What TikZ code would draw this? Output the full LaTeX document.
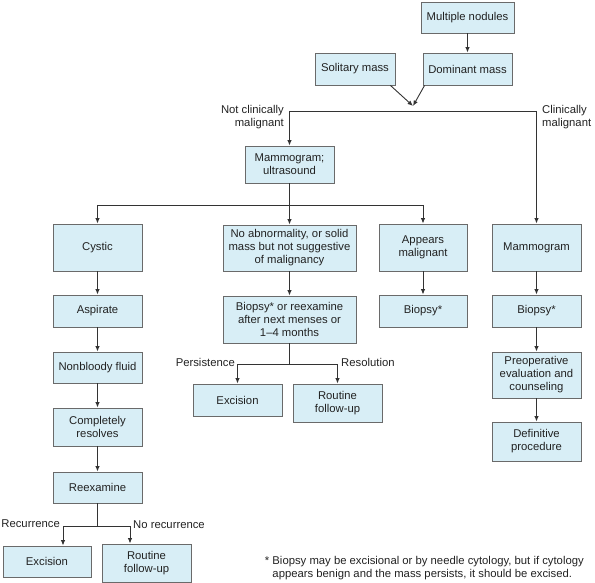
\documentclass[tikz,border=0pt]{standalone}
\usepackage{fontspec}
\setmainfont{Liberation Sans}
\usetikzlibrary{arrows.meta}
\definecolor{boxfill}{HTML}{D8EEF6}
\definecolor{boxline}{HTML}{6A6A6A}
\definecolor{txt}{HTML}{222222}
\definecolor{wire}{HTML}{333333}
\tikzset{
  box/.style={draw=boxline, fill=boxfill, line width=0.9pt, inner sep=0pt, align=center,
    text=txt, font=\fontsize{11.3}{13}\selectfont},
  lbl/.style={inner sep=0pt, text=txt, font=\fontsize{11.3}{13}\selectfont},
  wireline/.style={draw=wire, line width=0.9pt},
  arr/.style={wireline, -{Latex[length=5.5pt,width=4.5pt]}}
}
\newcommand{\bx}[6]{\node[box, minimum width=#4pt, minimum height=#5pt] (#1) at (#2,#3) {#6};}
\begin{document}
\begin{tikzpicture}[x=1pt,y=-1pt]
\useasboundingbox (0,0) rectangle (595,583);
% boxes
\bx{mult}{467.5}{17.5}{93}{31}{Multiple nodules}
\bx{sol}{355}{69}{80}{32}{Solitary mass}
\bx{dom}{467.5}{69}{89}{32}{Dominant mass}
\bx{mamus}{289.5}{164.5}{89}{37}{Mammogram;\\ultrasound}
\bx{cystic}{97.5}{247.5}{89}{47}{Cystic}
\bx{noab}{289.5}{248}{133}{46}{No abnormality, or solid\\mass but not suggestive\\of malignancy}
\bx{appm}{423}{247.5}{88}{47}{Appears\\malignant}
\bx{mamr}{536.5}{247.5}{89}{47}{Mammogram}
\bx{asp}{97.5}{311}{89}{32}{Aspirate}
\bx{biop}{289.5}{319.5}{133}{47}{Biopsy* or reexamine\\after next menses or\\1--4 months}
\bx{bioa}{423}{311}{88}{32}{Biopsy*}
\bx{biob}{536.5}{311}{89}{32}{Biopsy*}
\bx{nonb}{97.5}{367.5}{89}{31}{Nonbloody fluid}
\bx{exca}{237.5}{400}{89}{32}{Excision}
\bx{routa}{337.5}{403}{89}{38}{Routine\\follow-up}
\bx{preop}{536.5}{375}{89}{46}{Preoperative\\evaluation and\\counseling}
\bx{compl}{97.5}{427}{89}{38}{Completely\\resolves}
\bx{defin}{536.5}{441.5}{89}{39}{Definitive\\procedure}
\bx{reex}{97.5}{487.5}{89}{31}{Reexamine}
\bx{excb}{47}{561.5}{88}{31}{Excision}
\bx{routb}{146.5}{563}{89}{38}{Routine\\follow-up}
% top merge
\draw[arr] (mult.south) -- (dom.north);
\coordinate (J) at (413,106);
\draw[arr] ([xshift=-5pt]sol.south east) -- (J);
\draw[arr] ([xshift=2pt]dom.south west) -- (J);
\coordinate (L) at (289.5,111);
\coordinate (R) at (536.5,111);
\draw[wireline] (L) -- (R);
\draw[arr] (L) -- (mamus.north);
\draw[arr] (R) -- (mamr.north);
\node[lbl, anchor=east, align=right] (ncm) at (284,117) {Not clinically\\malignant};
\node[lbl, anchor=west, align=left] (cm) at (542,117) {Clinically\\malignant};
% second level split
\coordinate (S) at (289.5,205);
\coordinate (SL) at (97.5,205);
\coordinate (SR) at (423,205);
\draw[wireline] (mamus.south) -- (S);
\draw[wireline] (SL) -- (SR);
\draw[arr] (SL) -- (cystic.north);
\draw[arr] (S) -- (noab.north);
\draw[arr] (SR) -- (appm.north);
% left column
\draw[arr] (cystic) -- (asp);
\draw[arr] (asp) -- (nonb);
\draw[arr] (nonb) -- (compl);
\draw[arr] (compl) -- (reex);
\coordinate (T) at (97.5,526);
\coordinate (TL) at (63,526);
\coordinate (TR) at (130,526);
\draw[wireline] (reex.south) -- (T);
\draw[wireline] (TL) -- (TR);
\draw[arr] (TL) -- (TL |- excb.north);
\draw[arr] (TR) -- (TR |- routb.north);
\node[lbl, anchor=east] (rec) at (60,524) {Recurrence};
\node[lbl, anchor=west] (norec) at (133,525) {No recurrence};
% middle column
\draw[arr] (noab) -- (biop);
\coordinate (U) at (289.5,364);
\coordinate (UL) at (237.5,364);
\coordinate (UR) at (337.5,364);
\draw[wireline] (biop.south) -- (U);
\draw[wireline] (UL) -- (UR);
\draw[arr] (UL) -- (exca.north);
\draw[arr] (UR) -- (routa.north);
\node[lbl, anchor=east] (pers) at (235,362) {Persistence};
\node[lbl, anchor=west] (reso) at (341,362) {Resolution};
% appears malignant
\draw[arr] (appm) -- (bioa);
% right column
\draw[arr] (mamr) -- (biob);
\draw[arr] (biob) -- (preop);
\draw[arr] (preop) -- (defin);
% footnote
\node[lbl, anchor=east, align=left] (foot) at (584,568) {* Biopsy may be excisional or by needle cytology, but if cytology\\\phantom{* }appears benign and the mass persists, it should be excised.};
\end{tikzpicture}
\end{document}
